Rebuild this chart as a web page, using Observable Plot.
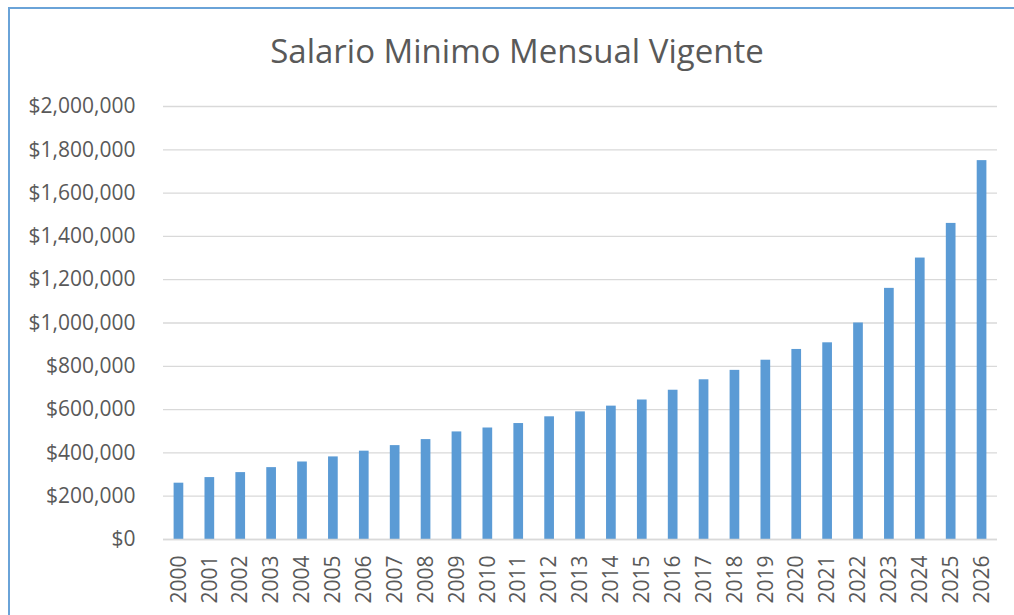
<!DOCTYPE html>
<html>
<head>
<meta charset="utf-8">
<script src="https://cdn.jsdelivr.net/npm/d3@7"></script>
<script src="https://cdn.jsdelivr.net/npm/@observablehq/plot@0.6"></script>
<style>
  html, body { margin: 0; padding: 0; background: #ffffff; }
  #wrap { position: relative; width: 1014px; height: 615px; overflow: hidden; font-family: "Open Sans", sans-serif; }
  #frame { position: absolute; left: 8px; top: 7px; right: -20px; bottom: -20px;
           border-left: 2px solid #6aa3d8; border-top: 2px solid #6aa3d8; pointer-events: none; }
  #title { height: 90px; box-sizing: border-box; padding-top: 34px; padding-left: 20px;
           text-align: center; font-size: 33px; line-height: 33px; color: #595959; }
  #chart svg { display: block; }
</style>
</head>
<body>
<div id="wrap">
  <div id="frame"></div>
  <div id="title">Salario Minimo Mensual Vigente</div>
  <div id="chart"></div>
</div>
<script>
const years = ["2000","2001","2002","2003","2004","2005","2006","2007","2008","2009",
               "2010","2011","2012","2013","2014","2015","2016","2017","2018","2019",
               "2020","2021","2022","2023","2024","2025","2026"];
const salario = [260100, 286000, 309000, 332000, 358000, 381500, 408000, 433700, 461500, 496900,
                 515000, 535600, 566700, 589500, 616000, 644350, 689455, 737717, 781242, 828116,
                 877803, 908526, 1000000, 1160000, 1300000, 1460000, 1750000];
const yTicks = [0, 200000, 400000, 600000, 800000, 1000000, 1200000, 1400000, 1600000, 1800000, 2000000];

const data = years.map((y, i) => ({year: y, value: salario[i]}));

const chart = Plot.plot({
  width: 1014,
  height: 525,
  marginTop: 16,
  marginBottom: 76,
  marginLeft: 163,
  marginRight: 17,
  style: {fontFamily: "Open Sans, sans-serif", fontSize: "21px", color: "#595959", background: "transparent", overflow: "visible"},
  x: {domain: years, padding: 0, round: false, label: null, tickSize: 0, tickRotate: -90, tickPadding: 16},
  y: {domain: [0, 2000000], ticks: yTicks, tickFormat: d3.format("$,"), tickSize: 0, tickPadding: 28, label: null},
  marks: [
    Plot.ruleY(yTicks, {stroke: "#d9d9d9", strokeWidth: 1.3}),
    Plot.barY(data, {x: "year", y: "value", fill: "#5b9bd5", insetLeft: 10.6, insetRight: 10.6}),
    Plot.ruleY([0], {stroke: "#d9d9d9", strokeWidth: 1.3})
  ]
});
document.getElementById("chart").appendChild(chart);
</script>
</body>
</html>
